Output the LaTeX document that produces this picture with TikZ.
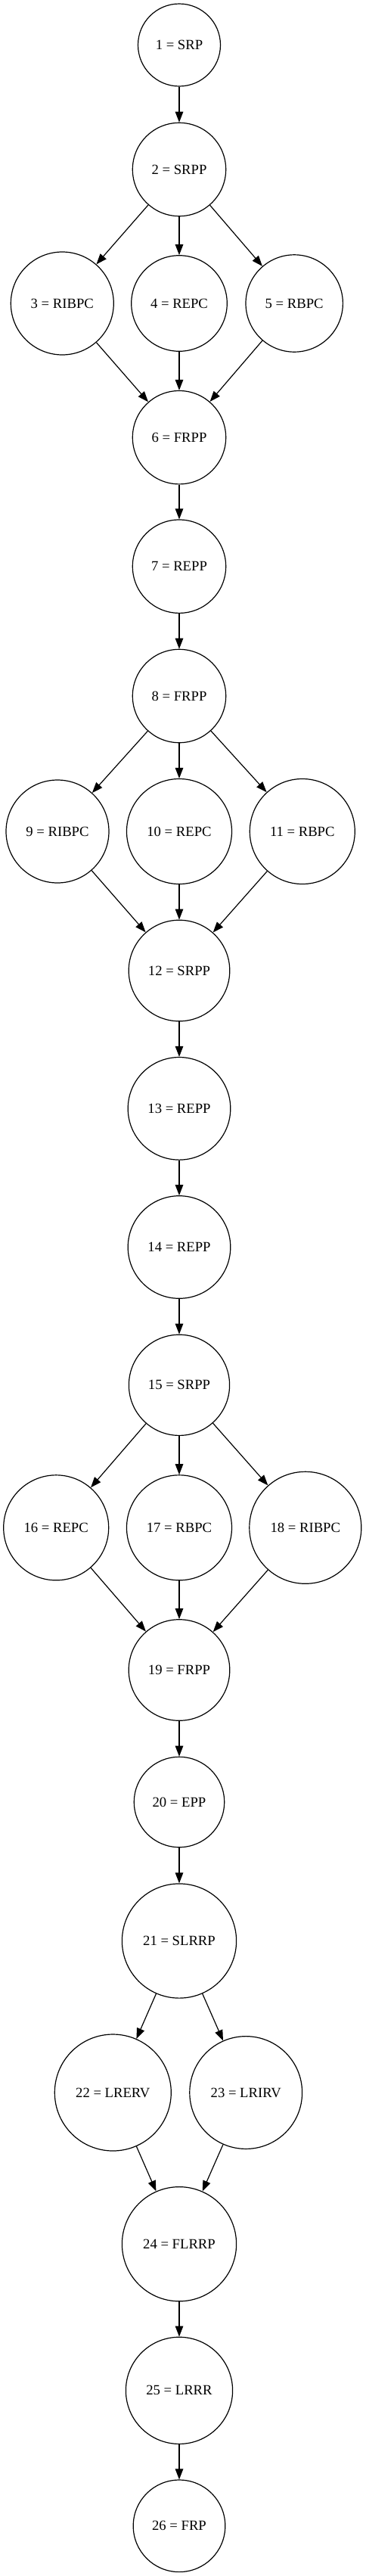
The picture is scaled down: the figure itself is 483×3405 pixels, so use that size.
\documentclass[tikz,border=0pt]{standalone}
\usepackage{fontspec}
\setmainfont{Liberation Serif}
\usetikzlibrary{arrows.meta}
\begin{document}
\begin{tikzpicture}[x=1pt,y=-1pt,
  st/.style={circle,draw,line width=1.2pt,inner sep=0pt,font=\fontsize{18.67}{22}\selectfont},
  edge/.style={line width=1.2pt,-{Triangle[length=14pt,width=10.5pt]}}]
\useasboundingbox (0,0) rectangle (483,3405);
\node[st,minimum size=109pt]   (n1)  at (237,59.5)   {1 = SRP};
\node[st,minimum size=123.4pt] (n2)  at (237,224)    {2 = SRPP};
\node[st,minimum size=136pt]   (n3)  at (82.3,401)   {3 = RIBPC};
\node[st,minimum size=126.6pt] (n4)  at (237,401)    {4 = REPC};
\node[st,minimum size=128.4pt] (n5)  at (389.2,401)  {5 = RBPC};
\node[st,minimum size=123.4pt] (n6)  at (237,578.2)  {6 = FRPP};
\node[st,minimum size=123.4pt] (n7)  at (237,748.7)  {7 = REPP};
\node[st,minimum size=123.4pt] (n8)  at (237,920)    {8 = FRPP};
\node[st,minimum size=136pt]   (n9)  at (76,1099)    {9 = RIBPC};
\node[st,minimum size=139pt]   (n10) at (237,1099)   {10 = REPC};
\node[st,minimum size=139pt]   (n11) at (399.8,1099) {11 = RBPC};
\node[st,minimum size=133.6pt] (n12) at (237,1283)   {12 = SRPP};
\node[st,minimum size=135.6pt] (n13) at (237,1465.3) {13 = REPP};
\node[st,minimum size=135.6pt] (n14) at (237,1648.5) {14 = REPP};
\node[st,minimum size=133.2pt] (n15) at (237,1830.8) {15 = SRPP};
\node[st,minimum size=139pt]   (n16) at (74.2,2019.3) {16 = REPC};
\node[st,minimum size=139pt]   (n17) at (237,2019.3) {17 = RBPC};
\node[st,minimum size=148pt]   (n18) at (403.8,2019.3) {18 = RIBPC};
\node[st,minimum size=133.6pt] (n19) at (237,2207.5) {19 = FRPP};
\node[st,minimum size=119.4pt] (n20) at (237,2382)   {20 = EPP};
\node[st,minimum size=151.2pt] (n21) at (237,2565.5) {21 = SLRRP};
\node[st,minimum size=154pt]   (n22) at (149.3,2766) {22 = LRERV};
\node[st,minimum size=148.8pt] (n23) at (325.2,2766) {23 = LRIRV};
\node[st,minimum size=151.2pt] (n24) at (237,2966.2) {24 = FLRRP};
\node[st,minimum size=141.2pt] (n25) at (237,3159.8) {25 = LRRR};
\node[st,minimum size=121.6pt] (n26) at (237,3338.8) {26 = FRP};
\foreach \a/\b in {n1/n2,n2/n3,n2/n4,n2/n5,n3/n6,n4/n6,n5/n6,n6/n7,n7/n8,
  n8/n9,n8/n10,n8/n11,n9/n12,n10/n12,n11/n12,n12/n13,n13/n14,n14/n15,
  n15/n16,n15/n17,n15/n18,n16/n19,n17/n19,n18/n19,n19/n20,n20/n21,
  n21/n22,n21/n23,n22/n24,n23/n24,n24/n25,n25/n26}
  \draw[edge] (\a) -- (\b);
\end{tikzpicture}
\end{document}
